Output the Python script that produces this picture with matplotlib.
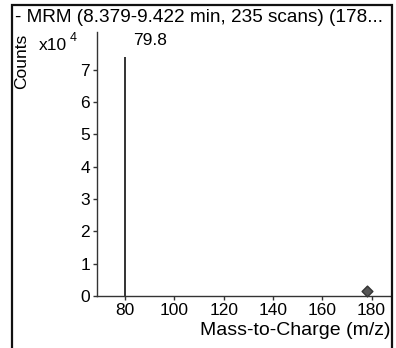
import matplotlib
matplotlib.use("Agg")
import matplotlib.pyplot as plt
from matplotlib.patches import Rectangle

plt.rcParams.update({"font.family": ["Liberation Sans", "DejaVu Sans"], "font.size": 10})

# spectrum data (counts in units of 1e4)
peak_mz = [79.8]
peak_counts = [7.4]
peak_label = "79.8"
precursor_mz = [178.0]
precursor_counts = [0.17]
x_ticks = [80, 100, 120, 140, 160, 180]
y_ticks = [0, 1, 2, 3, 4, 5, 6, 7]
title = "- MRM (8.379-9.422 min, 235 scans) (178..."

W, H = 396, 348
fig = plt.figure(figsize=(W / 100, H / 100), dpi=100)
fig.patch.set_facecolor("white")

# outer frame of the panel
fig.add_artist(Rectangle((12 / W, -0.05), (392 - 12) / W, (H - 5) / H + 0.05,
                         transform=fig.transFigure, fill=False, ec="#111111", lw=1.6))

ax = fig.add_axes([97 / W, (H - 296) / H, (390 - 97) / W, (296 - 32) / H])
ax.vlines(peak_mz, 0, peak_counts, color="#111111", lw=1.2)
ax.scatter(precursor_mz, precursor_counts, marker="D", s=30, color="#555555",
           edgecolor="#333333", zorder=3, clip_on=False)
ax.text(peak_mz[0] + 3.5, 7.9, peak_label, ha="left", va="center", fontsize=12.5)

ax.set_xlim(68.6, 187.5)
ax.set_ylim(0, 8.17)
ax.set_xticks(x_ticks)
ax.set_yticks(y_ticks)
ax.tick_params(labelsize=12.5, length=3, width=1, color="#333333", pad=2)
for s in ("top", "right"):
    ax.spines[s].set_visible(False)
for s in ("left", "bottom"):
    ax.spines[s].set_color("#333333")
    ax.spines[s].set_linewidth(1)

ax.set_xlabel("Mass-to-Charge (m/z)", fontsize=14, loc="right", labelpad=3)

fig.text(15 / W, 1 - 17 / H, title, ha="left", va="center", fontsize=13.7)
fig.text(22 / W, 1 - 61 / H, "Counts", rotation=90, ha="center", va="center", fontsize=12.5)
fig.text(39 / W, 1 - 46 / H, "x10", ha="left", va="center", fontsize=12.5)
fig.text(70 / W, 1 - 38 / H, "4", ha="left", va="center", fontsize=9)

fig.savefig("out.png", dpi=100)
